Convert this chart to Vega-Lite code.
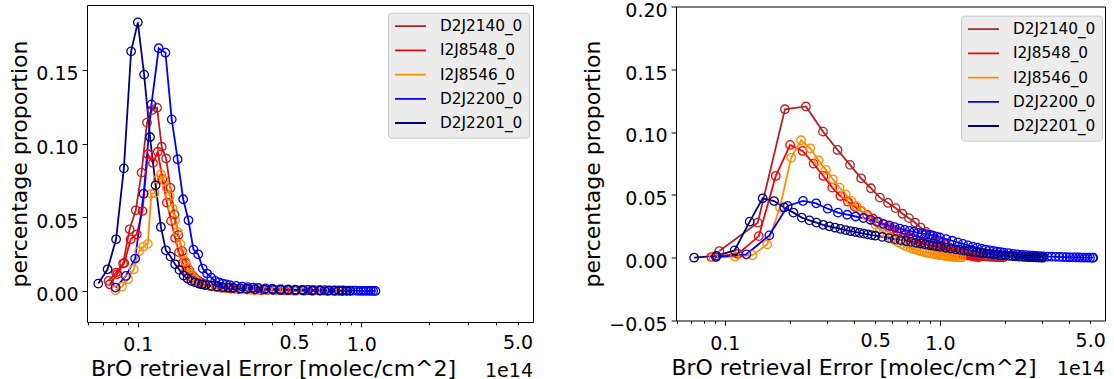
{
"$schema":"https://vega.github.io/schema/vega-lite/v6.json",
"background":"white",
"padding":{"left":8,"top":0,"right":2,"bottom":0},
"config":{"font":"DejaVu Sans","view":{"stroke":"#000","strokeWidth":1},
"axis":{"labelFont":"DejaVu Sans","titleFont":"DejaVu Sans","labelFontSize":19,"titleFontSize":22,"titleFontWeight":"normal","labelColor":"#000","titleColor":"#000","tickColor":"#000","tickWidth":1,"domain":false,"grid":false},
"legend":{"orient":"none","title":null,"fillColor":"#ececec","strokeColor":"#c8c8c8","strokeWidth":1,"cornerRadius":3,"padding":6,"symbolType":"stroke","symbolSize":961,"symbolStrokeWidth":1.8,"symbolOpacity":1,"labelFont":"DejaVu Sans","labelFontSize":15.3,"labelColor":"#000","labelOffset":13,"rowPadding":8.2,"clipHeight":15}},
"datasets":{
"L":[
{"s":"D2J2140_0","x":0.074,"y":0.0068},{"s":"D2J2140_0","x":0.080,"y":0.0125},{"s":"D2J2140_0","x":0.086,"y":0.0186},{"s":"D2J2140_0","x":0.092,"y":0.0419},{"s":"D2J2140_0","x":0.098,"y":0.0548},{"s":"D2J2140_0","x":0.104,"y":0.0804},{"s":"D2J2140_0","x":0.110,"y":0.1144},{"s":"D2J2140_0","x":0.116,"y":0.1230},{"s":"D2J2140_0","x":0.122,"y":0.1245},{"s":"D2J2140_0","x":0.128,"y":0.0980},{"s":"D2J2140_0","x":0.134,"y":0.0900},{"s":"D2J2140_0","x":0.140,"y":0.0700},{"s":"D2J2140_0","x":0.146,"y":0.0520},{"s":"D2J2140_0","x":0.152,"y":0.0380},{"s":"D2J2140_0","x":0.158,"y":0.0270},{"s":"D2J2140_0","x":0.164,"y":0.0190},{"s":"D2J2140_0","x":0.170,"y":0.0140},{"s":"D2J2140_0","x":0.176,"y":0.0105},{"s":"D2J2140_0","x":0.182,"y":0.0082},{"s":"D2J2140_0","x":0.188,"y":0.0066},{"s":"D2J2140_0","x":0.194,"y":0.0055},{"s":"D2J2140_0","x":0.200,"y":0.0047},{"s":"D2J2140_0","x":0.212,"y":0.0037},{"s":"D2J2140_0","x":0.224,"y":0.0030},{"s":"D2J2140_0","x":0.236,"y":0.0025},{"s":"D2J2140_0","x":0.248,"y":0.0021},{"s":"D2J2140_0","x":0.260,"y":0.0018},{"s":"D2J2140_0","x":0.284,"y":0.0014},{"s":"D2J2140_0","x":0.308,"y":0.0011},{"s":"D2J2140_0","x":0.332,"y":0.0009},{"s":"D2J2140_0","x":0.356,"y":0.0008},{"s":"D2J2140_0","x":0.380,"y":0.0007},{"s":"D2J2140_0","x":0.404,"y":0.0006},{"s":"D2J2140_0","x":0.440,"y":0.0005},{"s":"D2J2140_0","x":0.476,"y":0.0004},{"s":"D2J2140_0","x":0.512,"y":0.0003},{"s":"D2J2140_0","x":0.560,"y":0.0003},{"s":"D2J2140_0","x":0.608,"y":0.0002},{"s":"D2J2140_0","x":0.656,"y":0.0002},{"s":"D2J2140_0","x":0.704,"y":0.0001},{"s":"D2J2140_0","x":0.752,"y":0.0001},{"s":"D2J2140_0","x":0.800,"y":0.0001},
{"s":"I2J8548_0","x":0.075,"y":0.0045},{"s":"I2J8548_0","x":0.081,"y":0.0115},{"s":"I2J8548_0","x":0.087,"y":0.0190},{"s":"I2J8548_0","x":0.093,"y":0.0351},{"s":"I2J8548_0","x":0.099,"y":0.0385},{"s":"I2J8548_0","x":0.105,"y":0.0543},{"s":"I2J8548_0","x":0.111,"y":0.0929},{"s":"I2J8548_0","x":0.117,"y":0.0870},{"s":"I2J8548_0","x":0.123,"y":0.0946},{"s":"I2J8548_0","x":0.129,"y":0.0760},{"s":"I2J8548_0","x":0.135,"y":0.0600},{"s":"I2J8548_0","x":0.141,"y":0.0476},{"s":"I2J8548_0","x":0.147,"y":0.0360},{"s":"I2J8548_0","x":0.153,"y":0.0262},{"s":"I2J8548_0","x":0.159,"y":0.0190},{"s":"I2J8548_0","x":0.165,"y":0.0140},{"s":"I2J8548_0","x":0.171,"y":0.0102},{"s":"I2J8548_0","x":0.177,"y":0.0080},{"s":"I2J8548_0","x":0.183,"y":0.0064},{"s":"I2J8548_0","x":0.189,"y":0.0054},{"s":"I2J8548_0","x":0.195,"y":0.0046},{"s":"I2J8548_0","x":0.201,"y":0.0040},{"s":"I2J8548_0","x":0.213,"y":0.0032},{"s":"I2J8548_0","x":0.225,"y":0.0026},{"s":"I2J8548_0","x":0.237,"y":0.0022},{"s":"I2J8548_0","x":0.249,"y":0.0019},{"s":"I2J8548_0","x":0.261,"y":0.0016},{"s":"I2J8548_0","x":0.285,"y":0.0012},{"s":"I2J8548_0","x":0.309,"y":0.0010},{"s":"I2J8548_0","x":0.333,"y":0.0008},{"s":"I2J8548_0","x":0.357,"y":0.0007},{"s":"I2J8548_0","x":0.381,"y":0.0006},{"s":"I2J8548_0","x":0.417,"y":0.0005},{"s":"I2J8548_0","x":0.453,"y":0.0004},{"s":"I2J8548_0","x":0.501,"y":0.0003},{"s":"I2J8548_0","x":0.549,"y":0.0003},{"s":"I2J8548_0","x":0.597,"y":0.0002},{"s":"I2J8548_0","x":0.645,"y":0.0002},{"s":"I2J8548_0","x":0.705,"y":0.0001},{"s":"I2J8548_0","x":0.765,"y":0.0001},{"s":"I2J8548_0","x":0.825,"y":0.0001},
{"s":"I2J8546_0","x":0.0796,"y":0.0005},{"s":"I2J8546_0","x":0.0850,"y":0.0030},{"s":"I2J8546_0","x":0.0905,"y":0.0080},{"s":"I2J8546_0","x":0.0960,"y":0.0147},{"s":"I2J8546_0","x":0.1015,"y":0.0270},{"s":"I2J8546_0","x":0.1060,"y":0.0300},{"s":"I2J8546_0","x":0.1110,"y":0.0320},{"s":"I2J8546_0","x":0.1150,"y":0.0660},{"s":"I2J8546_0","x":0.1190,"y":0.0665},{"s":"I2J8546_0","x":0.1230,"y":0.0760},{"s":"I2J8546_0","x":0.1270,"y":0.0793},{"s":"I2J8546_0","x":0.1310,"y":0.0750},{"s":"I2J8546_0","x":0.1350,"y":0.0700},{"s":"I2J8546_0","x":0.1390,"y":0.0645},{"s":"I2J8546_0","x":0.1430,"y":0.0560},{"s":"I2J8546_0","x":0.1470,"y":0.0480},{"s":"I2J8546_0","x":0.1510,"y":0.0400},{"s":"I2J8546_0","x":0.1550,"y":0.0320},{"s":"I2J8546_0","x":0.1590,"y":0.0250},{"s":"I2J8546_0","x":0.1630,"y":0.0200},{"s":"I2J8546_0","x":0.1670,"y":0.0160},{"s":"I2J8546_0","x":0.1710,"y":0.0120},{"s":"I2J8546_0","x":0.1750,"y":0.0100},{"s":"I2J8546_0","x":0.1800,"y":0.0080},{"s":"I2J8546_0","x":0.1850,"y":0.0062},{"s":"I2J8546_0","x":0.1900,"y":0.0050},{"s":"I2J8546_0","x":0.2000,"y":0.0040},{"s":"I2J8546_0","x":0.2120,"y":0.0032},{"s":"I2J8546_0","x":0.2240,"y":0.0026},{"s":"I2J8546_0","x":0.2360,"y":0.0021},{"s":"I2J8546_0","x":0.2480,"y":0.0018},{"s":"I2J8546_0","x":0.2720,"y":0.0013},{"s":"I2J8546_0","x":0.2960,"y":0.0010},{"s":"I2J8546_0","x":0.3200,"y":0.0008},{"s":"I2J8546_0","x":0.3440,"y":0.0007},{"s":"I2J8546_0","x":0.3800,"y":0.0005},{"s":"I2J8546_0","x":0.4160,"y":0.0004},{"s":"I2J8546_0","x":0.4640,"y":0.0003},{"s":"I2J8546_0","x":0.5120,"y":0.0003},{"s":"I2J8546_0","x":0.5600,"y":0.0002},{"s":"I2J8546_0","x":0.6200,"y":0.0002},{"s":"I2J8546_0","x":0.6800,"y":0.0001},{"s":"I2J8546_0","x":0.7400,"y":0.0001},{"s":"I2J8546_0","x":0.7900,"y":0.0001},
{"s":"D2J2200_0","x":0.0796,"y":0.0023},{"s":"D2J2200_0","x":0.0885,"y":0.0102},{"s":"D2J2200_0","x":0.0974,"y":0.0220},{"s":"D2J2200_0","x":0.1063,"y":0.0661},{"s":"D2J2200_0","x":0.1152,"y":0.1268},{"s":"D2J2200_0","x":0.1241,"y":0.1649},{"s":"D2J2200_0","x":0.1330,"y":0.1619},{"s":"D2J2200_0","x":0.1419,"y":0.1166},{"s":"D2J2200_0","x":0.1508,"y":0.0895},{"s":"D2J2200_0","x":0.1597,"y":0.0623},{"s":"D2J2200_0","x":0.1686,"y":0.0480},{"s":"D2J2200_0","x":0.1775,"y":0.0281},{"s":"D2J2200_0","x":0.1864,"y":0.0249},{"s":"D2J2200_0","x":0.1953,"y":0.0152},{"s":"D2J2200_0","x":0.2042,"y":0.0118},{"s":"D2J2200_0","x":0.2131,"y":0.0090},{"s":"D2J2200_0","x":0.2220,"y":0.0068},{"s":"D2J2200_0","x":0.2309,"y":0.0058},{"s":"D2J2200_0","x":0.2398,"y":0.0050},{"s":"D2J2200_0","x":0.2487,"y":0.0045},{"s":"D2J2200_0","x":0.2576,"y":0.0040},{"s":"D2J2200_0","x":0.2754,"y":0.0034},{"s":"D2J2200_0","x":0.2932,"y":0.0030},{"s":"D2J2200_0","x":0.3110,"y":0.0026},{"s":"D2J2200_0","x":0.3288,"y":0.0023},{"s":"D2J2200_0","x":0.3466,"y":0.0020},{"s":"D2J2200_0","x":0.3733,"y":0.0017},{"s":"D2J2200_0","x":0.4000,"y":0.0015},{"s":"D2J2200_0","x":0.4356,"y":0.0012},{"s":"D2J2200_0","x":0.4712,"y":0.0010},{"s":"D2J2200_0","x":0.5068,"y":0.0009},{"s":"D2J2200_0","x":0.5424,"y":0.0008},{"s":"D2J2200_0","x":0.5780,"y":0.0007},{"s":"D2J2200_0","x":0.6136,"y":0.0006},{"s":"D2J2200_0","x":0.6492,"y":0.0005},{"s":"D2J2200_0","x":0.6848,"y":0.0005},{"s":"D2J2200_0","x":0.7204,"y":0.0004},{"s":"D2J2200_0","x":0.7560,"y":0.0004},{"s":"D2J2200_0","x":0.7916,"y":0.0003},{"s":"D2J2200_0","x":0.8272,"y":0.0003},{"s":"D2J2200_0","x":0.8628,"y":0.0002},{"s":"D2J2200_0","x":0.8895,"y":0.0002},{"s":"D2J2200_0","x":0.9162,"y":0.0002},{"s":"D2J2200_0","x":0.9429,"y":0.0002},{"s":"D2J2200_0","x":0.9696,"y":0.0001},{"s":"D2J2200_0","x":0.9963,"y":0.0001},{"s":"D2J2200_0","x":1.0230,"y":0.0001},{"s":"D2J2200_0","x":1.0497,"y":0.0001},{"s":"D2J2200_0","x":1.0764,"y":0.0001},{"s":"D2J2200_0","x":1.1031,"y":0.0001},{"s":"D2J2200_0","x":1.1298,"y":0.0000},{"s":"D2J2200_0","x":1.1565,"y":0.0000},
{"s":"D2J2201_0","x":0.0666,"y":0.0050},{"s":"D2J2201_0","x":0.0733,"y":0.0147},{"s":"D2J2201_0","x":0.0800,"y":0.0351},{"s":"D2J2201_0","x":0.0867,"y":0.0833},{"s":"D2J2201_0","x":0.0934,"y":0.1628},{"s":"D2J2201_0","x":0.1001,"y":0.1825},{"s":"D2J2201_0","x":0.1068,"y":0.1470},{"s":"D2J2201_0","x":0.1135,"y":0.1046},{"s":"D2J2201_0","x":0.1202,"y":0.0718},{"s":"D2J2201_0","x":0.1269,"y":0.0435},{"s":"D2J2201_0","x":0.1336,"y":0.0276},{"s":"D2J2201_0","x":0.1403,"y":0.0233},{"s":"D2J2201_0","x":0.1470,"y":0.0181},{"s":"D2J2201_0","x":0.1537,"y":0.0143},{"s":"D2J2201_0","x":0.1604,"y":0.0105},{"s":"D2J2201_0","x":0.1671,"y":0.0085},{"s":"D2J2201_0","x":0.1738,"y":0.0068},{"s":"D2J2201_0","x":0.1805,"y":0.0058},{"s":"D2J2201_0","x":0.1872,"y":0.0050},{"s":"D2J2201_0","x":0.1939,"y":0.0044},{"s":"D2J2201_0","x":0.2006,"y":0.0040},{"s":"D2J2201_0","x":0.2140,"y":0.0034},{"s":"D2J2201_0","x":0.2274,"y":0.0029},{"s":"D2J2201_0","x":0.2408,"y":0.0025},{"s":"D2J2201_0","x":0.2542,"y":0.0022},{"s":"D2J2201_0","x":0.2676,"y":0.0020},{"s":"D2J2201_0","x":0.2877,"y":0.0017},{"s":"D2J2201_0","x":0.3078,"y":0.0015},{"s":"D2J2201_0","x":0.3346,"y":0.0012},{"s":"D2J2201_0","x":0.3681,"y":0.0010},{"s":"D2J2201_0","x":0.4016,"y":0.0008},{"s":"D2J2201_0","x":0.4351,"y":0.0007},{"s":"D2J2201_0","x":0.4686,"y":0.0006},{"s":"D2J2201_0","x":0.5088,"y":0.0005},{"s":"D2J2201_0","x":0.5490,"y":0.0004},{"s":"D2J2201_0","x":0.6026,"y":0.0003},{"s":"D2J2201_0","x":0.6562,"y":0.0003},{"s":"D2J2201_0","x":0.7098,"y":0.0002},{"s":"D2J2201_0","x":0.7634,"y":0.0002},{"s":"D2J2201_0","x":0.8170,"y":0.0001},{"s":"D2J2201_0","x":0.8572,"y":0.0001},{"s":"D2J2201_0","x":0.8907,"y":0.0001}
],
"R":[
{"s":"D2J2140_0","x":0.0943,"y":0.0053},{"s":"D2J2140_0","x":0.1423,"y":0.0279},{"s":"D2J2140_0","x":0.1903,"y":0.1182},{"s":"D2J2140_0","x":0.2383,"y":0.1204},{"s":"D2J2140_0","x":0.2863,"y":0.1004},{"s":"D2J2140_0","x":0.3343,"y":0.0858},{"s":"D2J2140_0","x":0.3823,"y":0.0739},{"s":"D2J2140_0","x":0.4303,"y":0.0632},{"s":"D2J2140_0","x":0.4783,"y":0.0553},{"s":"D2J2140_0","x":0.5263,"y":0.0478},{"s":"D2J2140_0","x":0.5743,"y":0.0436},{"s":"D2J2140_0","x":0.6223,"y":0.0395},{"s":"D2J2140_0","x":0.6703,"y":0.0350},{"s":"D2J2140_0","x":0.7183,"y":0.0315},{"s":"D2J2140_0","x":0.7663,"y":0.0280},{"s":"D2J2140_0","x":0.8143,"y":0.0240},{"s":"D2J2140_0","x":0.8623,"y":0.0205},{"s":"D2J2140_0","x":0.9103,"y":0.0180},{"s":"D2J2140_0","x":0.9583,"y":0.0150},{"s":"D2J2140_0","x":1.0063,"y":0.0125},{"s":"D2J2140_0","x":1.0543,"y":0.0103},{"s":"D2J2140_0","x":1.1023,"y":0.0085},{"s":"D2J2140_0","x":1.1503,"y":0.0070},{"s":"D2J2140_0","x":1.1983,"y":0.0057},{"s":"D2J2140_0","x":1.2463,"y":0.0047},{"s":"D2J2140_0","x":1.2943,"y":0.0039},{"s":"D2J2140_0","x":1.3423,"y":0.0032},{"s":"D2J2140_0","x":1.3903,"y":0.0027},{"s":"D2J2140_0","x":1.4383,"y":0.0022},{"s":"D2J2140_0","x":1.4863,"y":0.0018},{"s":"D2J2140_0","x":1.5343,"y":0.0015},{"s":"D2J2140_0","x":1.5823,"y":0.0012},{"s":"D2J2140_0","x":1.6303,"y":0.0010},{"s":"D2J2140_0","x":1.6783,"y":0.0008},{"s":"D2J2140_0","x":1.7263,"y":0.0007},{"s":"D2J2140_0","x":1.7743,"y":0.0006},{"s":"D2J2140_0","x":1.8223,"y":0.0005},{"s":"D2J2140_0","x":1.8703,"y":0.0004},{"s":"D2J2140_0","x":1.9183,"y":0.0003},{"s":"D2J2140_0","x":1.9663,"y":0.0002},
{"s":"I2J8548_0","x":0.0865,"y":0.0005},{"s":"I2J8548_0","x":0.1152,"y":0.0030},{"s":"I2J8548_0","x":0.1439,"y":0.0172},{"s":"I2J8548_0","x":0.1726,"y":0.0651},{"s":"I2J8548_0","x":0.2013,"y":0.0898},{"s":"I2J8548_0","x":0.2300,"y":0.0850},{"s":"I2J8548_0","x":0.2587,"y":0.0749},{"s":"I2J8548_0","x":0.2874,"y":0.0651},{"s":"I2J8548_0","x":0.3161,"y":0.0558},{"s":"I2J8548_0","x":0.3448,"y":0.0491},{"s":"I2J8548_0","x":0.3735,"y":0.0446},{"s":"I2J8548_0","x":0.4022,"y":0.0405},{"s":"I2J8548_0","x":0.4309,"y":0.0370},{"s":"I2J8548_0","x":0.4596,"y":0.0340},{"s":"I2J8548_0","x":0.4883,"y":0.0312},{"s":"I2J8548_0","x":0.5170,"y":0.0288},{"s":"I2J8548_0","x":0.5457,"y":0.0266},{"s":"I2J8548_0","x":0.5744,"y":0.0246},{"s":"I2J8548_0","x":0.6031,"y":0.0228},{"s":"I2J8548_0","x":0.6318,"y":0.0211},{"s":"I2J8548_0","x":0.6605,"y":0.0195},{"s":"I2J8548_0","x":0.6892,"y":0.0180},{"s":"I2J8548_0","x":0.7179,"y":0.0166},{"s":"I2J8548_0","x":0.7466,"y":0.0153},{"s":"I2J8548_0","x":0.7753,"y":0.0141},{"s":"I2J8548_0","x":0.8040,"y":0.0130},{"s":"I2J8548_0","x":0.8327,"y":0.0120},{"s":"I2J8548_0","x":0.8614,"y":0.0110},{"s":"I2J8548_0","x":0.8901,"y":0.0101},{"s":"I2J8548_0","x":0.9188,"y":0.0093},{"s":"I2J8548_0","x":0.9475,"y":0.0086},{"s":"I2J8548_0","x":0.9762,"y":0.0080},{"s":"I2J8548_0","x":1.0049,"y":0.0074},{"s":"I2J8548_0","x":1.0336,"y":0.0068},{"s":"I2J8548_0","x":1.0623,"y":0.0062},{"s":"I2J8548_0","x":1.0910,"y":0.0057},{"s":"I2J8548_0","x":1.1197,"y":0.0052},{"s":"I2J8548_0","x":1.1484,"y":0.0047},{"s":"I2J8548_0","x":1.1771,"y":0.0042},{"s":"I2J8548_0","x":1.2058,"y":0.0038},{"s":"I2J8548_0","x":1.2345,"y":0.0034},{"s":"I2J8548_0","x":1.2632,"y":0.0030},{"s":"I2J8548_0","x":1.2919,"y":0.0026},{"s":"I2J8548_0","x":1.3206,"y":0.0023},{"s":"I2J8548_0","x":1.3493,"y":0.0020},{"s":"I2J8548_0","x":1.3780,"y":0.0017},{"s":"I2J8548_0","x":1.4067,"y":0.0014},{"s":"I2J8548_0","x":1.4354,"y":0.0011},{"s":"I2J8548_0","x":1.4641,"y":0.0009},{"s":"I2J8548_0","x":1.4928,"y":0.0007},{"s":"I2J8548_0","x":1.5215,"y":0.0005},
{"s":"I2J8546_0","x":0.0885,"y":0.0002},{"s":"I2J8546_0","x":0.1115,"y":0.0008},{"s":"I2J8546_0","x":0.1345,"y":0.0020},{"s":"I2J8546_0","x":0.1575,"y":0.0106},{"s":"I2J8546_0","x":0.1805,"y":0.0400},{"s":"I2J8546_0","x":0.2035,"y":0.0797},{"s":"I2J8546_0","x":0.2265,"y":0.0935},{"s":"I2J8546_0","x":0.2495,"y":0.0871},{"s":"I2J8546_0","x":0.2725,"y":0.0776},{"s":"I2J8546_0","x":0.2955,"y":0.0699},{"s":"I2J8546_0","x":0.3185,"y":0.0624},{"s":"I2J8546_0","x":0.3415,"y":0.0558},{"s":"I2J8546_0","x":0.3645,"y":0.0505},{"s":"I2J8546_0","x":0.3875,"y":0.0452},{"s":"I2J8546_0","x":0.4105,"y":0.0410},{"s":"I2J8546_0","x":0.4335,"y":0.0370},{"s":"I2J8546_0","x":0.4565,"y":0.0333},{"s":"I2J8546_0","x":0.4795,"y":0.0298},{"s":"I2J8546_0","x":0.5025,"y":0.0262},{"s":"I2J8546_0","x":0.5255,"y":0.0228},{"s":"I2J8546_0","x":0.5485,"y":0.0200},{"s":"I2J8546_0","x":0.5715,"y":0.0176},{"s":"I2J8546_0","x":0.5945,"y":0.0156},{"s":"I2J8546_0","x":0.6175,"y":0.0138},{"s":"I2J8546_0","x":0.6405,"y":0.0122},{"s":"I2J8546_0","x":0.6635,"y":0.0108},{"s":"I2J8546_0","x":0.6865,"y":0.0096},{"s":"I2J8546_0","x":0.7095,"y":0.0086},{"s":"I2J8546_0","x":0.7325,"y":0.0077},{"s":"I2J8546_0","x":0.7555,"y":0.0069},{"s":"I2J8546_0","x":0.7785,"y":0.0062},{"s":"I2J8546_0","x":0.8015,"y":0.0056},{"s":"I2J8546_0","x":0.8245,"y":0.0050},{"s":"I2J8546_0","x":0.8475,"y":0.0045},{"s":"I2J8546_0","x":0.8705,"y":0.0040},{"s":"I2J8546_0","x":0.8935,"y":0.0036},{"s":"I2J8546_0","x":0.9165,"y":0.0032},{"s":"I2J8546_0","x":0.9395,"y":0.0029},{"s":"I2J8546_0","x":0.9625,"y":0.0026},{"s":"I2J8546_0","x":0.9855,"y":0.0023},{"s":"I2J8546_0","x":1.0085,"y":0.0020},{"s":"I2J8546_0","x":1.0315,"y":0.0018},{"s":"I2J8546_0","x":1.0545,"y":0.0015},{"s":"I2J8546_0","x":1.0775,"y":0.0013},{"s":"I2J8546_0","x":1.1005,"y":0.0011},{"s":"I2J8546_0","x":1.1235,"y":0.0009},{"s":"I2J8546_0","x":1.1465,"y":0.0007},{"s":"I2J8546_0","x":1.1695,"y":0.0006},{"s":"I2J8546_0","x":1.1925,"y":0.0005},{"s":"I2J8546_0","x":1.2155,"y":0.0004},{"s":"I2J8546_0","x":1.2385,"y":0.0003},{"s":"I2J8546_0","x":1.2615,"y":0.0002},
{"s":"D2J2200_0","x":0.091,"y":0.0005},{"s":"D2J2200_0","x":0.126,"y":0.0027},{"s":"D2J2200_0","x":0.161,"y":0.0178},{"s":"D2J2200_0","x":0.196,"y":0.0412},{"s":"D2J2200_0","x":0.231,"y":0.0452},{"s":"D2J2200_0","x":0.266,"y":0.0433},{"s":"D2J2200_0","x":0.301,"y":0.0390},{"s":"D2J2200_0","x":0.336,"y":0.0359},{"s":"D2J2200_0","x":0.371,"y":0.0342},{"s":"D2J2200_0","x":0.406,"y":0.0328},{"s":"D2J2200_0","x":0.441,"y":0.0316},{"s":"D2J2200_0","x":0.476,"y":0.0302},{"s":"D2J2200_0","x":0.511,"y":0.0285},{"s":"D2J2200_0","x":0.546,"y":0.0270},{"s":"D2J2200_0","x":0.581,"y":0.0257},{"s":"D2J2200_0","x":0.616,"y":0.0244},{"s":"D2J2200_0","x":0.651,"y":0.0232},{"s":"D2J2200_0","x":0.686,"y":0.0222},{"s":"D2J2200_0","x":0.721,"y":0.0213},{"s":"D2J2200_0","x":0.756,"y":0.0205},{"s":"D2J2200_0","x":0.791,"y":0.0198},{"s":"D2J2200_0","x":0.826,"y":0.0192},{"s":"D2J2200_0","x":0.861,"y":0.0187},{"s":"D2J2200_0","x":0.896,"y":0.0182},{"s":"D2J2200_0","x":0.931,"y":0.0175},{"s":"D2J2200_0","x":0.966,"y":0.0168},{"s":"D2J2200_0","x":1.001,"y":0.0161},{"s":"D2J2200_0","x":1.071,"y":0.0148},{"s":"D2J2200_0","x":1.141,"y":0.0135},{"s":"D2J2200_0","x":1.211,"y":0.0122},{"s":"D2J2200_0","x":1.281,"y":0.0110},{"s":"D2J2200_0","x":1.351,"y":0.0098},{"s":"D2J2200_0","x":1.421,"y":0.0088},{"s":"D2J2200_0","x":1.491,"y":0.0080},{"s":"D2J2200_0","x":1.561,"y":0.0072},{"s":"D2J2200_0","x":1.631,"y":0.0065},{"s":"D2J2200_0","x":1.701,"y":0.0059},{"s":"D2J2200_0","x":1.771,"y":0.0054},{"s":"D2J2200_0","x":1.841,"y":0.0049},{"s":"D2J2200_0","x":1.911,"y":0.0045},{"s":"D2J2200_0","x":1.981,"y":0.0041},{"s":"D2J2200_0","x":2.086,"y":0.0036},{"s":"D2J2200_0","x":2.191,"y":0.0031},{"s":"D2J2200_0","x":2.296,"y":0.0027},{"s":"D2J2200_0","x":2.401,"y":0.0023},{"s":"D2J2200_0","x":2.506,"y":0.0020},{"s":"D2J2200_0","x":2.611,"y":0.0018},{"s":"D2J2200_0","x":2.716,"y":0.0016},{"s":"D2J2200_0","x":2.821,"y":0.0014},{"s":"D2J2200_0","x":2.926,"y":0.0012},{"s":"D2J2200_0","x":3.031,"y":0.0011},{"s":"D2J2200_0","x":3.171,"y":0.0009},{"s":"D2J2200_0","x":3.311,"y":0.0008},{"s":"D2J2200_0","x":3.451,"y":0.0007},{"s":"D2J2200_0","x":3.591,"y":0.0006},{"s":"D2J2200_0","x":3.731,"y":0.0005},{"s":"D2J2200_0","x":3.871,"y":0.0004},{"s":"D2J2200_0","x":4.011,"y":0.0003},{"s":"D2J2200_0","x":4.151,"y":0.0003},{"s":"D2J2200_0","x":4.291,"y":0.0002},{"s":"D2J2200_0","x":4.431,"y":0.0002},{"s":"D2J2200_0","x":4.571,"y":0.0001},{"s":"D2J2200_0","x":4.711,"y":0.0001},{"s":"D2J2200_0","x":4.851,"y":0.0001},{"s":"D2J2200_0","x":4.991,"y":0.0000},{"s":"D2J2200_0","x":5.131,"y":0.0000},{"s":"D2J2200_0","x":5.166,"y":0.0000},
{"s":"D2J2201_0","x":0.0720,"y":0.0000},{"s":"D2J2201_0","x":0.0915,"y":0.0015},{"s":"D2J2201_0","x":0.1110,"y":0.0058},{"s":"D2J2201_0","x":0.1305,"y":0.0287},{"s":"D2J2201_0","x":0.1500,"y":0.0473},{"s":"D2J2201_0","x":0.1695,"y":0.0451},{"s":"D2J2201_0","x":0.1890,"y":0.0400},{"s":"D2J2201_0","x":0.2085,"y":0.0359},{"s":"D2J2201_0","x":0.2280,"y":0.0319},{"s":"D2J2201_0","x":0.2475,"y":0.0297},{"s":"D2J2201_0","x":0.2670,"y":0.0279},{"s":"D2J2201_0","x":0.2865,"y":0.0262},{"s":"D2J2201_0","x":0.3060,"y":0.0250},{"s":"D2J2201_0","x":0.3255,"y":0.0239},{"s":"D2J2201_0","x":0.3450,"y":0.0229},{"s":"D2J2201_0","x":0.3645,"y":0.0220},{"s":"D2J2201_0","x":0.3840,"y":0.0212},{"s":"D2J2201_0","x":0.4035,"y":0.0205},{"s":"D2J2201_0","x":0.4230,"y":0.0198},{"s":"D2J2201_0","x":0.4425,"y":0.0192},{"s":"D2J2201_0","x":0.4620,"y":0.0186},{"s":"D2J2201_0","x":0.4815,"y":0.0180},{"s":"D2J2201_0","x":0.5010,"y":0.0175},{"s":"D2J2201_0","x":0.5400,"y":0.0165},{"s":"D2J2201_0","x":0.5790,"y":0.0156},{"s":"D2J2201_0","x":0.6180,"y":0.0148},{"s":"D2J2201_0","x":0.6570,"y":0.0140},{"s":"D2J2201_0","x":0.6960,"y":0.0133},{"s":"D2J2201_0","x":0.7350,"y":0.0126},{"s":"D2J2201_0","x":0.7740,"y":0.0119},{"s":"D2J2201_0","x":0.8130,"y":0.0113},{"s":"D2J2201_0","x":0.8520,"y":0.0107},{"s":"D2J2201_0","x":0.8910,"y":0.0101},{"s":"D2J2201_0","x":0.9300,"y":0.0096},{"s":"D2J2201_0","x":0.9690,"y":0.0091},{"s":"D2J2201_0","x":1.0080,"y":0.0086},{"s":"D2J2201_0","x":1.0665,"y":0.0079},{"s":"D2J2201_0","x":1.1250,"y":0.0073},{"s":"D2J2201_0","x":1.1835,"y":0.0067},{"s":"D2J2201_0","x":1.2420,"y":0.0062},{"s":"D2J2201_0","x":1.3005,"y":0.0057},{"s":"D2J2201_0","x":1.3590,"y":0.0052},{"s":"D2J2201_0","x":1.4175,"y":0.0048},{"s":"D2J2201_0","x":1.4760,"y":0.0044},{"s":"D2J2201_0","x":1.5345,"y":0.0040},{"s":"D2J2201_0","x":1.5930,"y":0.0036},{"s":"D2J2201_0","x":1.6515,"y":0.0033},{"s":"D2J2201_0","x":1.7100,"y":0.0030},{"s":"D2J2201_0","x":1.7880,"y":0.0026},{"s":"D2J2201_0","x":1.8660,"y":0.0023},{"s":"D2J2201_0","x":1.9440,"y":0.0020},{"s":"D2J2201_0","x":2.0220,"y":0.0017},{"s":"D2J2201_0","x":2.1000,"y":0.0015},{"s":"D2J2201_0","x":2.1780,"y":0.0013},{"s":"D2J2201_0","x":2.2560,"y":0.0011},{"s":"D2J2201_0","x":2.3340,"y":0.0009},{"s":"D2J2201_0","x":2.4120,"y":0.0008},{"s":"D2J2201_0","x":2.4900,"y":0.0006},{"s":"D2J2201_0","x":2.5680,"y":0.0005},{"s":"D2J2201_0","x":2.6460,"y":0.0004},{"s":"D2J2201_0","x":2.7240,"y":0.0003},{"s":"D2J2201_0","x":2.8020,"y":0.0002},{"s":"D2J2201_0","x":2.8800,"y":0.0001},{"s":"D2J2201_0","x":2.9580,"y":0.0001},{"s":"D2J2201_0","x":3.0165,"y":0.0000}
]},
"hconcat":[
{"width":446,"height":317,"data":{"name":"L"},
"title":{"text":"1e14","orient":"bottom","anchor":"end","frame":"group","offset":-18,"fontSize":19,"fontWeight":"normal","font":"DejaVu Sans","color":"#000"},
"encoding":{
"x":{"field":"x","type":"quantitative","scale":{"type":"log","domain":[0.0593,5.86],"nice":false},
"axis":{"title":"BrO retrieval Error [molec/cm^2]","titleX":186,"titlePadding":4,"labelPadding":8.6,"values":[0.06,0.07,0.08,0.09,0.1,0.2,0.3,0.4,0.5,0.6,0.7,0.8,0.9,1,2,3,4,5],"labelExpr":"indexof([0.1,0.5,1,5], datum.value) >= 0 ? format(datum.value, '.1f') : ''","tickSize":{"condition":{"test":"datum.value == 0.1 || datum.value == 1","value":4.9},"value":2.8}}},
"y":{"field":"y","type":"quantitative","scale":{"domain":[-0.0211,0.1943],"nice":false,"zero":false},
"axis":{"title":"percentage proportion","titlePadding":4,"values":[0,0.05,0.1,0.15],"format":".2f","tickSize":4.9,"labelPadding":4,"labelOffset":3.7}},
"color":{"field":"s","type":"nominal","scale":{"domain":["D2J2140_0","I2J8548_0","I2J8546_0","D2J2200_0","D2J2201_0"],"range":["#b22222","#ff0000","#ff8c00","#0000ff","#000080"]},"legend":{"legendX":301,"legendY":7.7}}},
"layer":[{"mark":{"type":"line","strokeWidth":1.8}},{"mark":{"type":"point","shape":"circle","filled":false,"size":72,"strokeWidth":1.3,"opacity":1}}]},
{"width":429,"height":314,"data":{"name":"R"},
"title":{"text":"1e14","orient":"bottom","anchor":"end","frame":"group","offset":-18,"fontSize":19,"fontWeight":"normal","font":"DejaVu Sans","color":"#000"},
"encoding":{
"x":{"field":"x","type":"quantitative","scale":{"type":"log","domain":[0.0593,5.86],"nice":false},
"axis":{"title":"BrO retrieval Error [molec/cm^2]","titleX":177.5,"titlePadding":4,"labelPadding":8.6,"values":[0.06,0.07,0.08,0.09,0.1,0.2,0.3,0.4,0.5,0.6,0.7,0.8,0.9,1,2,3,4,5],"labelExpr":"indexof([0.1,0.5,1,5], datum.value) >= 0 ? format(datum.value, '.1f') : ''","tickSize":{"condition":{"test":"datum.value == 0.1 || datum.value == 1","value":4.9},"value":2.8}}},
"y":{"field":"y","type":"quantitative","scale":{"domain":[-0.05,0.2],"nice":false,"zero":false},
"axis":{"title":"percentage proportion","titlePadding":4,"values":[-0.05,0,0.05,0.1,0.15,0.2],"format":".2f","tickSize":4.9,"labelPadding":4,"labelOffset":3.7}},
"color":{"field":"s","type":"nominal","scale":{"domain":["D2J2140_0","I2J8548_0","I2J8546_0","D2J2200_0","D2J2201_0"],"range":["#b22222","#ff0000","#ff8c00","#0000ff","#000080"]},"legend":{"legendX":285,"legendY":9.2}}},
"layer":[{"mark":{"type":"line","strokeWidth":1.8}},{"mark":{"type":"point","shape":"circle","filled":false,"size":72,"strokeWidth":1.3,"opacity":1}}]}
],
"spacing":143,
"bounds":"flush",
"center":true,
"resolve":{"legend":{"color":"independent"}}
}
